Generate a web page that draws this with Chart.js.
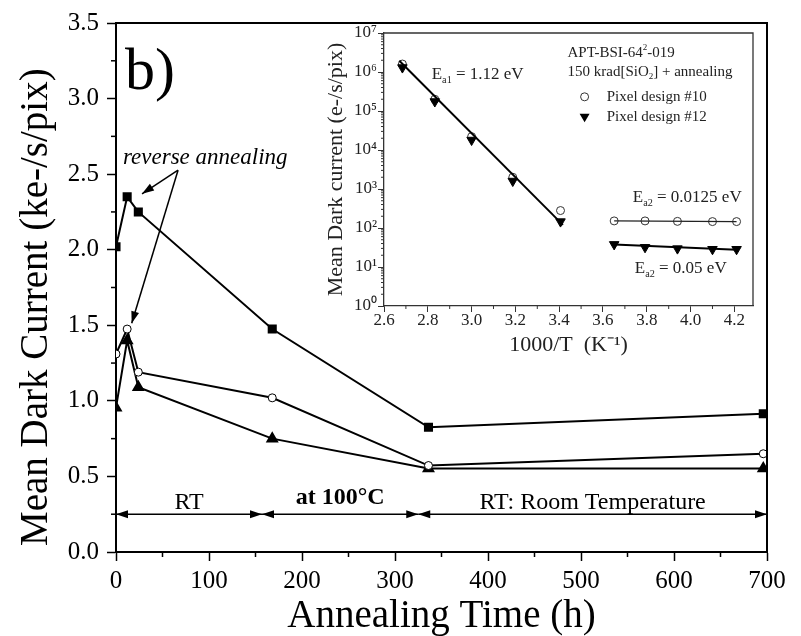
<!DOCTYPE html>
<html>
<head>
<meta charset="utf-8">
<script src="https://cdn.jsdelivr.net/npm/chart.js@4.4.1/dist/chart.umd.min.js"></script>
<style>
  html, body { margin: 0; padding: 0; background: #fff; }
  #wrap { position: relative; width: 801px; height: 636px; }
  #mainChart { position: absolute; left: 0; top: 0; }
  #insetChart { position: absolute; left: 300px; top: 0; }
</style>
</head>
<body>
<div id="wrap">
  <canvas id="mainChart" width="801" height="636"></canvas>
  <canvas id="insetChart" width="470" height="365"></canvas>
</div>
<script>
// main plot: dark current vs annealing time
const annealHours = [0, 12, 24, 168, 336, 696];
const darkSquare = [2.02, 2.35, 2.25, 1.475, 0.825, 0.915];
const darkCircle = [1.31, 1.475, 1.19, 1.02, 0.572, 0.65];
const darkTriangle = [0.955, 1.40, 1.09, 0.75, 0.552, 0.552];
const mainXTicks = [0, 100, 200, 300, 400, 500, 600, 700];
const mainYTicks = [0, 0.5, 1, 1.5, 2, 2.5, 3, 3.5];
const phaseBounds = [0, 157, 325, 700];
const phaseLabels = ['RT', 'at 100°C', 'RT: Room Temperature'];

// inset: Arrhenius plot
const invTemp = [2.684, 2.832, 3.0, 3.188, 3.406, 3.651, 3.792, 3.94, 4.10, 4.21];
const dcPixel10 = [1.6e6, 2.0e5, 2.2e4, 2.0e3, 280, 152, 152, 148, 146, 146];
const dcPixel12 = [1.3e6, 1.75e5, 1.8e4, 1.6e3, 146, 38, 32, 29.6, 28.5, 28.5];
const fitHighX = [2.67, 3.417];
const fitHighY = [1.95e6, 120];
const fitLow10X = [3.651, 4.21];
const fitLow10Y = [152, 146];
const fitLow12X = [3.651, 4.21];
const fitLow12Y = [38, 27.5];
const insetXTicks = [2.6, 2.8, 3.0, 3.2, 3.4, 3.6, 3.8, 4.0, 4.2];
const insetYTicks = [1, 10, 100, 1e3, 1e4, 1e5, 1e6, 1e7];
const insetYLabels = ['10⁰', '10¹', '10²', '10³', '10⁴', '10⁵', '10⁶', '10⁷'];

const serif = "'Liberation Serif', 'Times New Roman', serif";
const pts = (xs, ys) => xs.map((x, i) => ({ x: x, y: ys[i] }));
const midpoints = arr => arr.slice(1).map((v, i) => (v + arr[i]) / 2);

function arrowHead(ctx, x1, y1, x2, y2, len, half) {
  const a = Math.atan2(y2 - y1, x2 - x1);
  const bx = x2 - len * Math.cos(a), by = y2 - len * Math.sin(a);
  ctx.beginPath();
  ctx.moveTo(x2, y2);
  ctx.lineTo(bx + half * Math.sin(a), by - half * Math.cos(a));
  ctx.lineTo(bx - half * Math.sin(a), by + half * Math.cos(a));
  ctx.closePath();
  ctx.fill();
}

function drawRich(ctx, x, y, parts, size) {
  let cx = x;
  parts.forEach(p => {
    const kind = p[1];
    const s = kind ? size * 0.6 : size;
    ctx.font = s + 'px ' + serif;
    const dy = kind === 'sub' ? size * 0.3 : (kind === 'sup' ? -size * 0.35 : 0);
    ctx.fillText(p[0], cx, y + dy);
    cx += ctx.measureText(p[0]).width;
  });
}

// frame, minor ticks, arrows and labels of the main plot
const mainDecor = {
  id: 'mainDecor',
  afterDraw(chart) {
    const ctx = chart.ctx, a = chart.chartArea;
    const xs = chart.scales.x, ys = chart.scales.y;
    ctx.save();
    ctx.strokeStyle = '#000';
    ctx.fillStyle = '#000';
    ctx.lineWidth = 2;
    ctx.beginPath();
    ctx.moveTo(a.left, a.top);
    ctx.lineTo(a.right, a.top);
    ctx.lineTo(a.right, a.bottom);
    ctx.stroke();

    ctx.lineWidth = 1.5;
    midpoints(mainXTicks).forEach(v => {
      const px = xs.getPixelForValue(v);
      ctx.beginPath(); ctx.moveTo(px, a.bottom); ctx.lineTo(px, a.bottom + 5); ctx.stroke();
    });
    midpoints(mainYTicks).forEach(v => {
      const py = ys.getPixelForValue(v);
      ctx.beginPath(); ctx.moveTo(a.left, py); ctx.lineTo(a.left - 5, py); ctx.stroke();
    });

    // y axis title, sitting a little below the middle like the original
    ctx.save();
    ctx.translate(36.5, ys.getPixelForValue(1.62));
    ctx.rotate(-Math.PI / 2);
    ctx.textAlign = 'center';
    ctx.textBaseline = 'middle';
    ctx.font = '39px ' + serif;
    ctx.fillText('Mean Dark Current (ke-/s/pix)', 0, 0);
    ctx.restore();

    // annealing phases
    const ay = ys.getPixelForValue(0.25);
    ctx.lineWidth = 1.5;
    for (let i = 0; i < phaseLabels.length; i++) {
      const x1 = xs.getPixelForValue(phaseBounds[i]);
      const x2 = xs.getPixelForValue(phaseBounds[i + 1]);
      ctx.beginPath(); ctx.moveTo(x1, ay); ctx.lineTo(x2, ay); ctx.stroke();
      arrowHead(ctx, x2, ay, x1, ay, 12, 4);
      arrowHead(ctx, x1, ay, x2, ay, 12, 4);
      ctx.textAlign = 'center';
      ctx.textBaseline = 'alphabetic';
      ctx.font = (i === 1 ? 'bold ' : '') + '24px ' + serif;
      const ly = ys.getPixelForValue(i === 1 ? 0.316 : 0.287);
      ctx.fillText(phaseLabels[i], (x1 + x2) / 2, ly);
    }

    // reverse annealing pointers
    const apexX = xs.getPixelForValue(66.7), apexY = ys.getPixelForValue(2.526);
    [[28, 2.37], [16.9, 1.513]].forEach(t => {
      const tx = xs.getPixelForValue(t[0]), ty = ys.getPixelForValue(t[1]);
      ctx.beginPath(); ctx.moveTo(apexX, apexY); ctx.lineTo(tx, ty); ctx.stroke();
      arrowHead(ctx, apexX, apexY, tx, ty, 12, 4);
    });
    ctx.textAlign = 'left';
    ctx.font = 'italic 23px ' + serif;
    ctx.fillText('reverse annealing', xs.getPixelForValue(7.5), ys.getPixelForValue(2.57));
    ctx.font = '60px ' + serif;
    ctx.fillText('b)', xs.getPixelForValue(9.7), ys.getPixelForValue(3.066));
    ctx.restore();
  }
};

new Chart(document.getElementById('mainChart'), {
  type: 'scatter',
  data: {
    datasets: [
      {
        data: pts(annealHours, darkSquare), showLine: true, clip: 0,
        borderColor: '#000', borderWidth: 2,
        pointStyle: 'rect', pointRadius: 5, pointBackgroundColor: '#000', pointBorderColor: '#000'
      },
      {
        data: pts(annealHours, darkCircle), showLine: true, clip: 0,
        borderColor: '#000', borderWidth: 2,
        pointStyle: 'circle', pointRadius: 4, pointBackgroundColor: '#fff', pointBorderColor: '#000', pointBorderWidth: 1
      },
      {
        data: pts(annealHours, darkTriangle), showLine: true, clip: 0,
        borderColor: '#000', borderWidth: 2,
        pointStyle: 'triangle', pointRadius: 5.5, pointBackgroundColor: '#000', pointBorderColor: '#000'
      }
    ]
  },
  options: {
    responsive: false,
    animation: false,
    layout: { padding: { top: 23, right: 34, left: 0, bottom: 0 } },
    plugins: { legend: { display: false }, tooltip: { enabled: false } },
    scales: {
      x: {
        type: 'linear', min: 0, max: 700,
        afterBuildTicks: s => { s.ticks = mainXTicks.map(v => ({ value: v })); },
        afterFit: s => { s.height = 84; },
        grid: { drawOnChartArea: false, tickLength: 9, tickColor: '#000', tickWidth: 1.5 },
        border: { color: '#000', width: 2 },
        ticks: { color: '#000', font: { family: serif, size: 25, lineHeight: 1 }, padding: 8, maxRotation: 0, autoSkip: false },
        title: { display: true, text: 'Annealing Time (h)', color: '#000', font: { family: serif, size: 39, lineHeight: 1 }, padding: { top: 0, bottom: 0 } }
      },
      y: {
        type: 'linear', min: 0, max: 3.5,
        afterBuildTicks: s => { s.ticks = mainYTicks.map(v => ({ value: v })); },
        afterFit: s => { s.width = 116; },
        grid: { drawOnChartArea: false, tickLength: 9, tickColor: '#000', tickWidth: 1.5 },
        border: { color: '#000', width: 2 },
        ticks: { color: '#000', font: { family: serif, size: 25, lineHeight: 1 }, padding: 8, callback: v => v.toFixed(1) },
        title: { display: false }
      }
    }
  },
  plugins: [mainDecor]
});

// inset annotations
const insetNotes = [
  { x: 3.438, y: 3.1e6, size: 15, parts: [['APT-BSI-64'], ['2', 'sup'], ['-019']] },
  { x: 3.438, y: 1.0e6, size: 15, parts: [['150 krad[SiO'], ['2', 'sub'], ['] + annealing']] },
  { x: 3.617, y: 2.31e5, size: 15, parts: [['Pixel design #10']] },
  { x: 3.617, y: 7.1e4, size: 15, parts: [['Pixel design #12']] },
  { x: 2.818, y: 8.5e5, size: 17, parts: [['E'], ['a1', 'sub'], [' = 1.12 eV']] },
  { x: 3.736, y: 592, size: 17, parts: [['E'], ['a2', 'sub'], [' = 0.0125 eV']] },
  { x: 3.745, y: 8.9, size: 17, parts: [['E'], ['a2', 'sub'], [' = 0.05 eV']] }
];

const insetDecor = {
  id: 'insetDecor',
  afterDraw(chart) {
    const ctx = chart.ctx, a = chart.chartArea;
    const xs = chart.scales.x, ys = chart.scales.y;
    ctx.save();
    ctx.strokeStyle = '#333';
    ctx.fillStyle = '#222';
    ctx.lineWidth = 1.3;
    ctx.beginPath();
    ctx.moveTo(a.left, a.top);
    ctx.lineTo(a.right, a.top);
    ctx.lineTo(a.right, a.bottom);
    ctx.stroke();

    ctx.lineWidth = 1;
    midpoints(insetXTicks).forEach(v => {
      const px = xs.getPixelForValue(v);
      ctx.beginPath(); ctx.moveTo(px, a.bottom); ctx.lineTo(px, a.bottom + 3); ctx.stroke();
    });
    insetYTicks.slice(0, -1).forEach(d => {
      for (let m = 2; m <= 9; m++) {
        const py = ys.getPixelForValue(d * m);
        ctx.beginPath(); ctx.moveTo(a.left, py); ctx.lineTo(a.left - 3, py); ctx.stroke();
      }
    });

    // legend markers
    const mx = xs.getPixelForValue(3.516);
    const c = ys.getPixelForValue(2.31e5);
    ctx.beginPath(); ctx.arc(mx, c, 4, 0, Math.PI * 2); ctx.stroke();
    const t = ys.getPixelForValue(7.1e4);
    ctx.fillStyle = '#000';
    ctx.beginPath();
    ctx.moveTo(mx - 5, t - 3); ctx.lineTo(mx + 5, t - 3); ctx.lineTo(mx, t + 5.5);
    ctx.closePath(); ctx.fill();

    ctx.fillStyle = '#222';
    ctx.textAlign = 'left';
    ctx.textBaseline = 'middle';
    insetNotes.forEach(n => {
      drawRich(ctx, xs.getPixelForValue(n.x), ys.getPixelForValue(n.y), n.parts, n.size);
    });
    ctx.restore();
  }
};

new Chart(document.getElementById('insetChart'), {
  type: 'scatter',
  data: {
    datasets: [
      { data: pts(fitHighX, fitHighY), showLine: true, pointRadius: 0, borderColor: '#000', borderWidth: 2 },
      { data: pts(fitLow10X, fitLow10Y), showLine: true, pointRadius: 0, borderColor: '#222', borderWidth: 1.2 },
      { data: pts(fitLow12X, fitLow12Y), showLine: true, pointRadius: 0, borderColor: '#000', borderWidth: 2 },
      {
        data: pts(invTemp, dcPixel12), pointStyle: 'triangle', pointRotation: 180, pointRadius: 5.5,
        pointBackgroundColor: '#000', pointBorderColor: '#000'
      },
      {
        data: pts(invTemp, dcPixel10), pointStyle: 'circle', pointRadius: 4,
        pointBackgroundColor: '#fff', pointBorderColor: '#333', pointBorderWidth: 1
      }
    ]
  },
  options: {
    responsive: false,
    animation: false,
    layout: { padding: { top: 33, right: 17, left: 0, bottom: 0 } },
    plugins: { legend: { display: false }, tooltip: { enabled: false } },
    scales: {
      x: {
        type: 'linear', min: 2.6, max: 4.285,
        afterBuildTicks: s => { s.ticks = insetXTicks.map(v => ({ value: v })); },
        afterFit: s => { s.height = 59; },
        grid: { drawOnChartArea: false, tickLength: 6, tickColor: '#333', tickWidth: 1 },
        border: { color: '#333', width: 1.3 },
        ticks: { color: '#222', font: { family: serif, size: 17, lineHeight: 1 }, padding: 0, maxRotation: 0, autoSkip: false, callback: v => v.toFixed(1) },
        title: { display: true, text: '1000/T  (K⁻¹)', color: '#222', font: { family: serif, size: 22, lineHeight: 1 }, padding: { top: 0, bottom: 9 } }
      },
      y: {
        type: 'logarithmic', min: 1, max: 1e7,
        afterBuildTicks: s => { s.ticks = insetYTicks.map(v => ({ value: v })); },
        afterFit: s => { s.width = 84; },
        grid: { drawOnChartArea: false, tickLength: 6, tickColor: '#333', tickWidth: 1 },
        border: { color: '#333', width: 1.3 },
        ticks: { color: '#222', font: { family: serif, size: 17, lineHeight: 1 }, padding: 1, autoSkip: false, callback: (v, i) => insetYLabels[i] },
        title: { display: true, text: 'Mean Dark current (e-/s/pix)', color: '#222', font: { family: serif, size: 22, lineHeight: 1 }, padding: { top: 25, bottom: 0 } }
      }
    }
  },
  plugins: [insetDecor]
});
</script>
</body>
</html>
